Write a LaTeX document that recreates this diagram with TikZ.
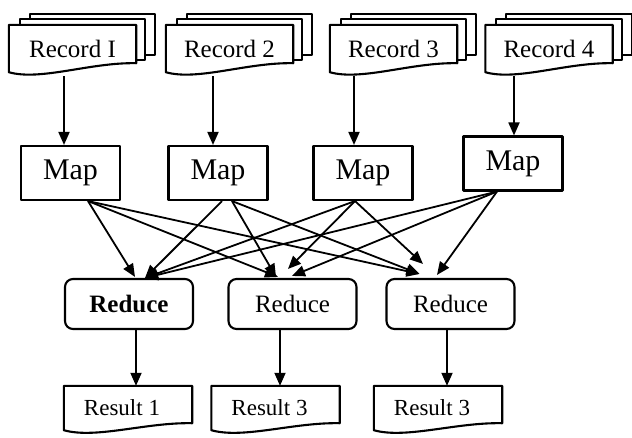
\documentclass[tikz,border=0pt]{standalone}
\usepackage{fontspec}
\setmainfont{Liberation Serif}
\usetikzlibrary{arrows.meta,calc,backgrounds}

% outline of a document sheet with a wavy lower edge (#2 = rise of the right end)
\newcommand\docedge[2]{%
  \draw[page] (#1.south west) -- (#1.north west) -- (#1.north east)
    -- ($(#1.south east)+(0,-#2)$)
    .. controls ($(#1.south west)!0.64!(#1.south east)+(0,-#2-1)$)
    and ($(#1.south west)!0.25!(#1.south east)+(0,9)$) .. (#1.south west) -- cycle;}
% a stack of three sheets
\newcommand\recstack[1]{%
  \draw[page] ($(#1.north west)+(21,-11)$) rectangle ($(#1.south east)+(19,-17)$);
  \draw[page] ($(#1.north west)+(11,-5.5)$) rectangle ($(#1.south east)+(9,-12)$);
  \docedge{#1}{9}}

\tikzset{
  boxline/.style={line width=2.1pt, line join=round},
  page/.style={boxline, fill=white},
  mapbox/.style={draw, boxline, minimum width=99pt, minimum height=54pt,
    inner sep=0pt, font=\fontsize{30}{31}\selectfont},
  redbox/.style={draw, boxline, rounded corners=8pt, minimum width=128pt,
    minimum height=50pt, inner sep=0pt, font=\fontsize{25}{26}\selectfont},
  recnode/.style={minimum width=127pt, minimum height=47pt, inner sep=0pt,
    font=\fontsize{25}{26}\selectfont},
  resnode/.style={minimum width=128pt, minimum height=44pt, inner sep=0pt},
  restext/.style={font=\fontsize{23}{24}\selectfont, xshift=-6pt},
  arr/.style={line width=1.8pt, -{Triangle[length=13pt,width=11pt]}},
}

\begin{document}
\begin{tikzpicture}[x=1pt,y=-1pt]
\useasboundingbox (0,0) rectangle (632,437);

% input records
\node[recnode] (r1) at (72.5,48.5) {Record I};
\node[recnode] (r2) at (229.5,48.5) {Record 2};
\node[recnode] (r3) at (393.5,48.5) {Record 3};
\node[recnode] (r4) at (549,48.5) {Record 4};

% map tasks
\node[mapbox] (m1) at (70.5,173) {Map};
\node[mapbox] (m2) at (218,173) {Map};
\node[mapbox] (m3) at (363,173) {Map};
\node[mapbox] (m4) at (513,163.5) {Map};

% reduce tasks
\node[redbox] (d1) at (129,304) {\bfseries Reduce};
\node[redbox] (d2) at (292.5,304) {Reduce};
\node[redbox] (d3) at (450.5,304) {Reduce};

% outputs
\node[resnode, label={[restext]center:Result 1}] (s1) at (128,408) {};
\node[resnode, label={[restext]center:Result 3}] (s2) at (275.5,408) {};
\node[resnode, label={[restext]center:Result 3}] (s3) at (438,408) {};

\begin{pgfonlayer}{background}
  \recstack{r1}\recstack{r2}\recstack{r3}\recstack{r4}
  \docedge{s1}{7}\docedge{s2}{7}\docedge{s3}{7}
\end{pgfonlayer}

% records feed the maps
\draw[arr] ($([xshift=-6.5pt]m1.north |- r1.south)+(0,4)$) -- ([xshift=-6.5pt]m1.north);
\draw[arr] ($([xshift=-5pt]m2.north |- r2.south)+(0,4)$) -- ([xshift=-5pt]m2.north);
\draw[arr] ($([xshift=-9pt]m3.north |- r3.south)+(0,4)$) -- ([xshift=-9pt]m3.north);
\draw[arr] ($([xshift=1pt]m4.north |- r4.south)+(0,4)$) -- ([xshift=1pt]m4.north);

% shuffle: every map sends to every reduce
\draw[arr] ([xshift=17.5pt]m1.south) -- ($(d1.north)+(6,-1)$);
\draw[arr] ([xshift=17.5pt]m1.south) -- ($(d2.north)+(-14.5,-1)$);
\draw[arr] ([xshift=17.5pt]m1.south) -- ($(d3.north)+(-31,-4)$);
\draw[arr] ([xshift=4pt]m2.south) -- ($(d1.north)+(16,0)$);
\draw[arr] ([xshift=14pt]m2.south) -- ($(d2.north)+(-16.5,-1)$);
\draw[arr] ([xshift=14pt]m2.south) -- ($(d3.north)+(-31,-4)$);
\draw[arr] ([xshift=-8pt]m3.south) -- ($(d1.north)+(16,0)$);
\draw[arr] ([xshift=-8pt]m3.south) -- ($(d2.north)+(-4.5,-9)$);
\draw[arr] ([xshift=-8pt]m3.south) -- ($(d3.north)+(-27.5,-14)$);
\draw[arr] ([xshift=-16pt]m4.south) -- ($(d1.north)+(16,0)$);
\draw[arr] ([xshift=-16pt]m4.south) -- ($(d2.north)+(-0.5,-2)$);
\draw[arr] ([xshift=-16pt]m4.south) -- ($(d3.north)+(-13.5,-3)$);

% reduces write the results
\draw[arr] ([xshift=7pt]d1.south) -- ([xshift=7pt]d1.south |- s1.north);
\draw[arr] ([xshift=-12.5pt]d2.south) -- ([xshift=-12.5pt]d2.south |- s2.north);
\draw[arr] ([xshift=-3.5pt]d3.south) -- ([xshift=-3.5pt]d3.south |- s3.north);
\end{tikzpicture}
\end{document}
